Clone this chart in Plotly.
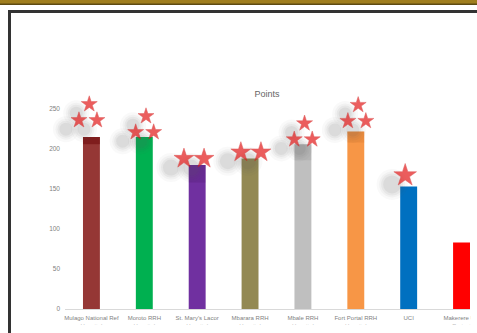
import plotly.graph_objects as go

# ---------------- data ----------------
categories = ["Mulago National Ref", "Moroto RRH", "St. Mary's Lacor", "Mbarara RRH",
              "Mbale RRH", "Fort Portal RRH", "UCI", "Makerere Uni"]
second_line = ["Hospital", "Hospital", "Hospital", "Hospital", "Hospital", "Hospital", "", "Project"]
points = [215, 215, 180, 188, 206, 222, 153, 83]
bar_colors = ["#953735", "#00B050", "#7030A0", "#938953", "#BFBFBF", "#F79646", "#0070C0", "#FF0000"]
# darker band at top of some bars (picture shadow)
cap_height = [9, 0, 22, 0, 20, 14, 0, 0]
cap_colors = ["rgba(110,10,10,0.55)", "rgba(0,0,0,0)", "rgba(40,0,60,0.12)", "rgba(0,0,0,0)",
              "rgba(60,60,60,0.08)", "rgba(150,60,0,0.10)", "rgba(0,0,0,0)", "rgba(0,0,0,0)"]
# star ratings
star_count = [3, 3, 2, 2, 3, 3, 1, 0]
star_level = [236, 221, 188, 196, 212, 235, 167, 0]
star_shift = [-0.066, 0.007, -0.06, 0.016, 0.006, 0.02, -0.066, 0]
y_ticks = [0, 50, 100, 150, 200, 250]

# ---------------- layout constants ----------------
W, H = 477, 333
ML, MR, MT, MB = 65, 7, 69, 24
PW, PH = W - ML - MR, H - MT - MB
PX_PER_CAT = PW / 7.66
PX_PER_UNIT = PH / 300


def px_x(px):
    return (px - ML) / PW


def px_y(py):
    return (H - MB - py) / PH


xs = list(range(len(categories)))
ticktext = [c + ("<br>" + s if s else "") for c, s in zip(categories, second_line)]

fig = go.Figure()
fig.add_trace(go.Bar(x=xs, y=points, marker_color=bar_colors, width=0.32,
                     marker_line_width=0, showlegend=False))
fig.add_trace(go.Bar(x=xs, y=cap_height, base=[p - c for p, c in zip(points, cap_height)],
                     marker_color=cap_colors, width=0.32, marker_line_width=0, showlegend=False))

# stars
sx, sy, ss = [], [], []
size_for = {3: 12, 2: 15, 1: 17}
for i, (n, lvl, sh) in enumerate(zip(star_count, star_level, star_shift)):
    if n == 3:
        sx += [i + sh - 0.17, i + sh + 0.17, i + sh + 0.025]
        sy += [lvl, lvl, lvl + 20]
        ss += [size_for[3]] * 3
    elif n == 2:
        sx += [i + sh - 0.19, i + sh + 0.19]
        sy += [lvl, lvl]
        ss += [size_for[2]] * 2
    elif n == 1:
        sx += [i + sh]
        sy += [lvl]
        ss += [size_for[1]]

dx = -13 / PX_PER_CAT
dy = -9 / PX_PER_UNIT
for size_add, alpha in [(14, 0.05), (9, 0.07), (5, 0.09), (1, 0.11)]:
    fig.add_trace(go.Scatter(x=[v + dx for v in sx], y=[v + dy for v in sy], mode="markers",
                             marker=dict(symbol="circle", size=[s + size_add for s in ss],
                                         color=f"rgba(90,90,90,{alpha})", line_width=0),
                             showlegend=False, hoverinfo="skip", cliponaxis=False))
fig.add_trace(go.Scatter(x=sx, y=sy, mode="markers",
                         marker=dict(symbol="star", size=ss, color="#E31A1A",
                                     line=dict(color="#D01818", width=0.5)),
                         showlegend=False, hoverinfo="skip", cliponaxis=False))

shapes = [
    # gold strip at the very top
    dict(type="rect", xref="paper", yref="paper", x0=px_x(-2), x1=px_x(W + 2), y0=px_y(4.5), y1=px_y(-2),
         fillcolor="#A07E1E", line_width=0, layer="above"),
    dict(type="rect", xref="paper", yref="paper", x0=px_x(-2), x1=px_x(W + 2), y0=px_y(5), y1=px_y(3.5),
         fillcolor="#5E4A12", line_width=0, layer="above"),
    # masks clipping labels
    dict(type="rect", xref="paper", yref="paper", x0=px_x(12), x1=px_x(W + 2), y0=px_y(H + 2), y1=px_y(324.5),
         fillcolor="white", line_width=0, layer="above"),
    dict(type="rect", xref="paper", yref="paper", x0=px_x(470.5), x1=px_x(W + 2), y0=px_y(H + 2), y1=px_y(311),
         fillcolor="white", line_width=0, layer="above"),
    # dark frame
    dict(type="rect", xref="paper", yref="paper", x0=px_x(8), x1=px_x(W + 2), y0=px_y(13), y1=px_y(10),
         fillcolor="#333333", line_width=0, layer="above"),
    dict(type="rect", xref="paper", yref="paper", x0=px_x(8), x1=px_x(11), y0=px_y(H + 2), y1=px_y(10),
         fillcolor="#333333", line_width=0, layer="above"),
]

fig.update_layout(
    width=W, height=H,
    margin=dict(l=ML, r=MR, t=MT, b=MB, pad=0, autoexpand=False),
    paper_bgcolor="white", plot_bgcolor="white",
    barmode="overlay",
    font=dict(family="Liberation Sans, sans-serif", color="#808080", size=6),
    title=dict(text="Points", x=(267) / W, xanchor="center",
               y=1 - 94 / H, yanchor="middle",
               font=dict(family="Liberation Sans, sans-serif", size=9, color="#666666")),
    xaxis=dict(range=[-0.5, 7.16], tickmode="array", tickvals=xs, ticktext=ticktext,
               showgrid=False, zeroline=False, showline=True, linecolor="#D9D9D9", linewidth=1,
               ticks="", tickangle=0, automargin=False, ticklabeloverflow="allow",
               ticklabelstandoff=3, tickfont=dict(size=6, color="#7F7F7F")),
    yaxis=dict(range=[0, 300], tickmode="array", tickvals=y_ticks, showgrid=False, zeroline=False,
               showline=False, ticks="", automargin=False, tickfont=dict(size=6.5, color="#7F7F7F"),
               ticklabelstandoff=4),
    shapes=shapes,
)

fig.write_html("out.html")
